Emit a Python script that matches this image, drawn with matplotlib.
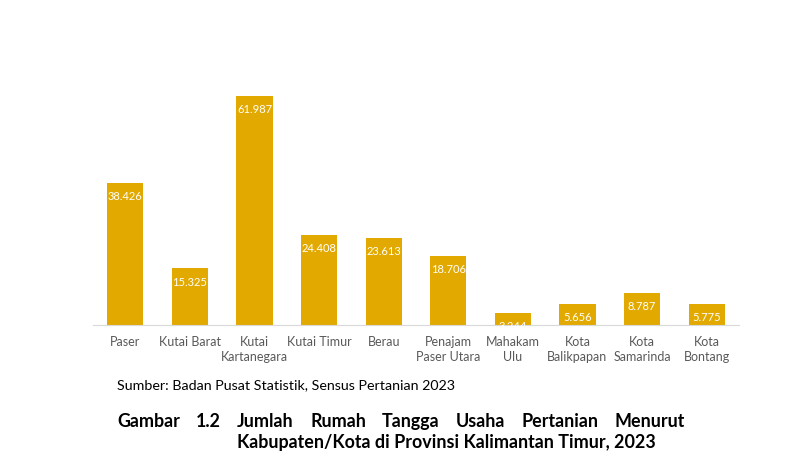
import matplotlib.pyplot as plt

# Data
kabupaten = ['Paser', 'Kutai Barat', 'Kutai\nKartanegara', 'Kutai Timur', 'Berau',
             'Penajam\nPaser Utara', 'Mahakam\nUlu', 'Kota\nBalikpapan', 'Kota\nSamarinda',
             'Kota\nBontang']
jumlah_ruta = [38426, 15325, 61987, 24408, 23613, 18706, 3244, 5656, 8787, 5775]

sumber = 'Sumber: Badan Pusat Statistik, Sensus Pertanian 2023'
judul_1 = 'Gambar 1.2 Jumlah Rumah Tangga Usaha Pertanian Menurut'
judul_2 = 'Kabupaten/Kota di Provinsi Kalimantan Timur, 2023'

plt.rcParams['font.family'] = ['Lato', 'DejaVu Sans']

W, H = 800, 471
fig = plt.figure(figsize=(W / 100, H / 100), dpi=100)
ax = fig.add_axes([93 / W, 1 - 325 / H, (739 - 93) / W, 295 / H])

x = range(len(kabupaten))
bars = ax.bar(x, jumlah_ruta, width=0.56, color='#E2AA00')

# Label angka di dalam batang (format titik ribuan)
for b, v in zip(bars, jumlah_ruta):
    ax.annotate(f'{v:,}'.replace(',', '.'), (b.get_x() + b.get_width() / 2, b.get_height()),
                xytext=(0, -6), textcoords='offset points', ha='center', va='top',
                color='white', fontsize=8)

ax.set_xlim(-0.5, len(kabupaten) - 0.5)
ax.set_ylim(0, 79900)
ax.set_xticks(list(x))
ax.set_xticklabels(kabupaten, fontsize=9, color='#595959', linespacing=1.25)
ax.tick_params(axis='x', length=0, pad=8)
ax.set_yticks([])
for s in ['top', 'left', 'right']:
    ax.spines[s].set_visible(False)
ax.spines['bottom'].set_color('#D9D9D9')
ax.spines['bottom'].set_linewidth(0.8)

fig.text(117 / W, 1 - 389 / H, sumber, fontsize=10.3, va='baseline', ha='left')

# Judul rata kanan-kiri (justify) seperti di dokumen
renderer = fig.canvas.get_renderer()
kata = judul_1.split()
x0, x1 = 117, 685
teks = [fig.text(0, 1 - 427 / H, k, fontsize=12.9, fontweight='bold', va='baseline') for k in kata]
lebar = [t.get_window_extent(renderer).width for t in teks]
celah = (x1 - x0 - sum(lebar)) / (len(kata) - 1)
pos = x0
for t, w in zip(teks, lebar):
    t.set_x(pos / W)
    pos += w + celah

fig.text(237 / W, 1 - 448 / H, judul_2, fontsize=12.9, fontweight='bold', va='baseline')

fig.savefig('out.png', dpi=100)
